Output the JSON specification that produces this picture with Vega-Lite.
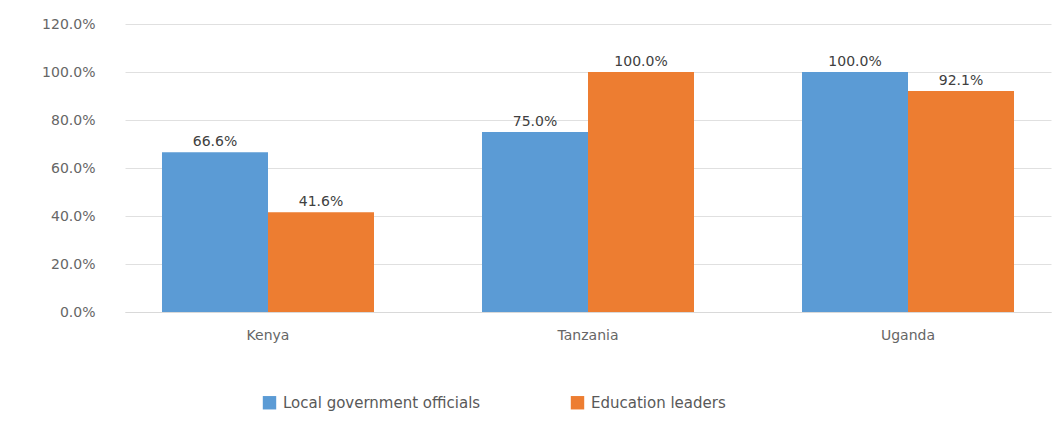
{
  "$schema": "https://vega.github.io/schema/vega-lite/v6.json",
  "autosize": "none",
  "width": 926,
  "height": 288,
  "padding": {"left": 125, "top": 24, "right": 2, "bottom": 109},
  "background": "white",
  "config": {
    "view": {"stroke": null},
    "font": "DejaVu Sans",
    "axis": {"labelFont": "DejaVu Sans", "labelColor": "#666666", "labelFontSize": 14},
    "legend": {"labelFont": "DejaVu Sans", "labelColor": "#595959", "labelFontSize": 15}
  },
  "data": {
    "values": [
      {"country": "Kenya", "group": "Local government officials", "value": 0.666},
      {"country": "Kenya", "group": "Education leaders", "value": 0.416},
      {"country": "Tanzania", "group": "Local government officials", "value": 0.75},
      {"country": "Tanzania", "group": "Education leaders", "value": 1.0},
      {"country": "Uganda", "group": "Local government officials", "value": 1.0},
      {"country": "Uganda", "group": "Education leaders", "value": 0.921}
    ]
  },
  "encoding": {
    "x": {
      "field": "country", "type": "nominal", "sort": null, "title": null,
      "scale": {"paddingInner": 0.3375, "paddingOuter": 0.1156},
      "axis": {"labelAngle": 0, "ticks": false, "domainColor": "#d9d9d9", "labelPadding": 16}
    },
    "xOffset": {"field": "group", "type": "nominal", "sort": ["Local government officials", "Education leaders"], "scale": {"paddingInner": 0, "paddingOuter": 0}},
    "y": {
      "field": "value", "type": "quantitative", "title": null,
      "scale": {"domain": [0, 1.2]},
      "axis": {"format": ".1%", "values": [0, 0.2, 0.4, 0.6, 0.8, 1.0, 1.2], "domain": false, "ticks": false, "gridColor": "#e0e0e0", "labelPadding": 30}
    }
  },
  "layer": [
    {
      "mark": {"type": "bar"},
      "encoding": {
        "color": {
          "field": "group", "type": "nominal",
          "scale": {"domain": ["Local government officials", "Education leaders"], "range": ["#5B9BD5", "#ED7D31"]},
          "legend": {"title": null, "orient": "none", "direction": "horizontal", "legendX": 137, "legendY": 371, "symbolType": "square", "symbolSize": 180, "columnPadding": 89, "labelOffset": 6, "labelLimit": 400}
        }
      }
    },
    {
      "mark": {"type": "text", "dy": -10, "fontSize": 14, "color": "#404040"},
      "encoding": {
        "text": {"field": "value", "type": "quantitative", "format": ".1%"}
      }
    }
  ]
}
